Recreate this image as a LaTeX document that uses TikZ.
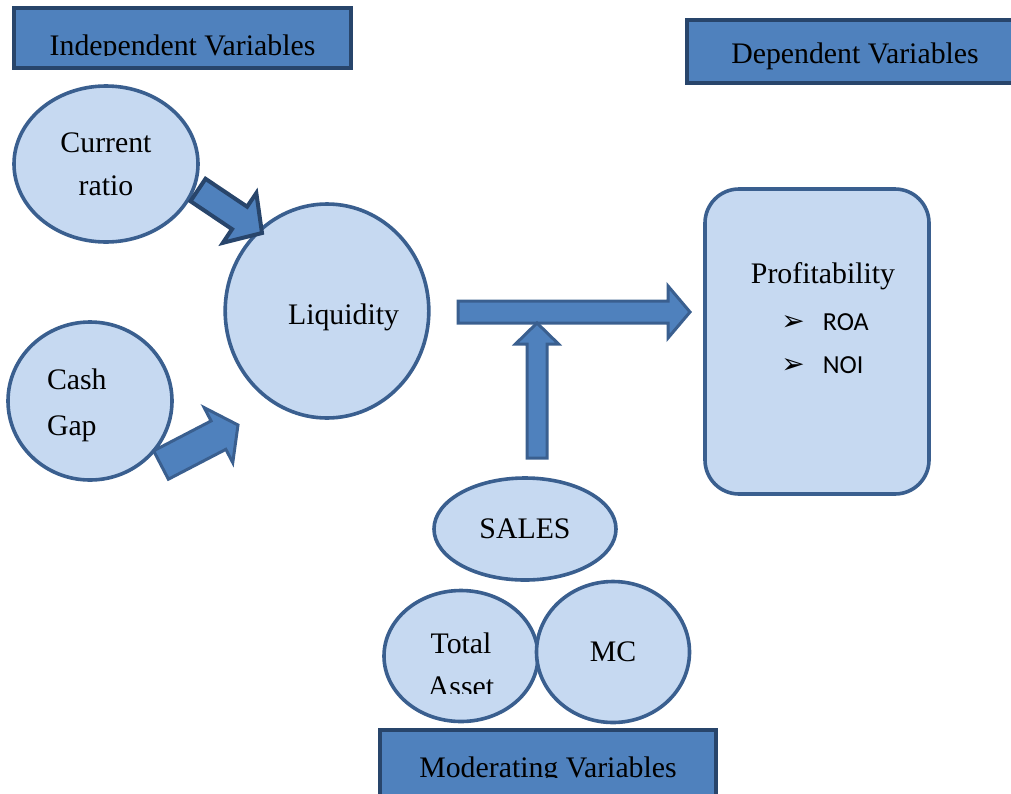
\documentclass[tikz,border=0pt]{standalone}
\usepackage{fontspec}
\setmainfont{Liberation Serif}
\newfontfamily\calibfont{Carlito}
\newfontfamily\dingfont{DejaVu Sans}
\usetikzlibrary{calc,shapes.geometric}
\definecolor{varblue}{HTML}{4F81BD}
\definecolor{varnavy}{HTML}{28456B}
\definecolor{cellfill}{HTML}{C6D9F1}
\definecolor{cellline}{HTML}{3A5F8F}
\tikzset{
  header/.style={rectangle,draw=varnavy,line width=2pt,fill=varblue,inner sep=0pt},
  factor/.style={ellipse,draw=cellline,line width=1.8pt,fill=cellfill,align=center,inner sep=0pt},
  outcome/.style={rectangle,rounded corners=17pt,draw=cellline,line width=1.8pt,fill=cellfill,inner sep=0pt},
  blockarr/.style={draw=cellline,line width=1.5pt,fill=varblue,line join=miter},
  bullet/.style={anchor=base west,inner sep=0pt}
}
% block arrow: [opts]{tail}{tip}{shaft half width}{head half width}{head length}
\newcommand\blockarrow[6][]{%
  \coordinate (hb) at ($(#3)!#6!(#2)$);
  \draw[blockarr,#1] ($(#2)!#4!90:(#3)$) -- ($(hb)!#4!90:(#3)$) -- ($(hb)!#5!90:(#3)$)
    -- (#3) -- ($(hb)!#5!-90:(#3)$) -- ($(hb)!#4!-90:(#3)$) -- ($(#2)!#4!-90:(#3)$) -- cycle;
}
\newcommand\pointer{{\dingfont\fontsize{14}{14}\selectfont ➢}}

\begin{document}
\begin{tikzpicture}[x=0.5pt,y=-0.5pt,font=\fontsize{14.9}{21.5}\selectfont]
  \useasboundingbox (0,0) rectangle (1011,793);

  % headings
  \node[header,minimum width=168.5pt,minimum height=30pt] (indep) at (182.5,38) {};
  \begin{scope}
    \clip (14,8) rectangle (351,55.5);
    \node[anchor=base,inner sep=0pt] at (182.5,55) {Independent Variables};
  \end{scope}
  \node[header,minimum width=170pt,minimum height=31.5pt] (dep) at (857,51.5) {};
  \node[anchor=base,inner sep=0pt] at (855,63) {Dependent Variables};
  \node[header,minimum width=168pt,minimum height=36pt] (moder) at (548,766) {};
  \begin{scope}
    \clip (380,730) rectangle (716,777.5);
    \node[anchor=base,inner sep=0pt] at (548,777) {Moderating Variables};
  \end{scope}

  % variables
  \node[factor,minimum width=92pt,minimum height=78pt] (curr) at (106,164) {Current\\ratio};
  \node[factor,minimum width=82pt,minimum height=79pt,text width=43pt,align=left,
    font=\fontsize{14.9}{23}\selectfont] (cash) at (90,401) {\rule{0pt}{15pt}Cash\\Gap};
  \node[factor,minimum width=101pt,minimum height=107pt,text width=72pt,align=right,
    text height=16pt,text depth=3pt] (liq) at (327,311) {Liquidity};
  \node[outcome,minimum width=112pt,minimum height=152.5pt] (prof) at (817,341.5) {};
  \node[anchor=base,inner sep=0pt] (proftxt) at (823,283) {Profitability};
  \node[bullet] (roa) at (781,330) {\pointer\hspace{9pt}{\calibfont\fontsize{13}{15}\selectfont ROA}};
  \node[bullet] (noi) at (781,373) {\pointer\hspace{9pt}{\calibfont\fontsize{13}{15}\selectfont NOI}};

  \node[factor,minimum width=91pt,minimum height=51pt] (sales) at (525,529) {SALES};
  \node[factor,minimum width=77pt,minimum height=65.5pt] (asset) at (461,656) {};
  \begin{scope}
    \clip (384,591) rectangle (538,693);
    \node[align=center,inner sep=0pt] at (461,665) {Total\\Asset};
  \end{scope}
  \node[factor,minimum width=76.5pt,minimum height=70.5pt] (mc) at (613,652) {MC};

  % arrow ends
  \coordinate (currout) at (198,190);
  \coordinate (liqin1) at (262,233);
  \coordinate (cashout) at (161,465);
  \coordinate (liqin2) at (238,425);
  \coordinate (liqout) at (458,312);
  \coordinate (profin) at (690,312);
  \coordinate (salesout) at (537,458);
  \coordinate (join) at (537,323);

  \blockarrow[draw=varnavy,line width=2pt]{currout}{liqin1}{6.75pt}{15pt}{13.5pt}
  \blockarrow{cashout}{liqin2}{8pt}{15.5pt}{11pt}
  \blockarrow{liqout}{profin}{5.5pt}{13pt}{11pt}
  \blockarrow{salesout}{join}{5pt}{10.75pt}{10.5pt}
\end{tikzpicture}
\end{document}
